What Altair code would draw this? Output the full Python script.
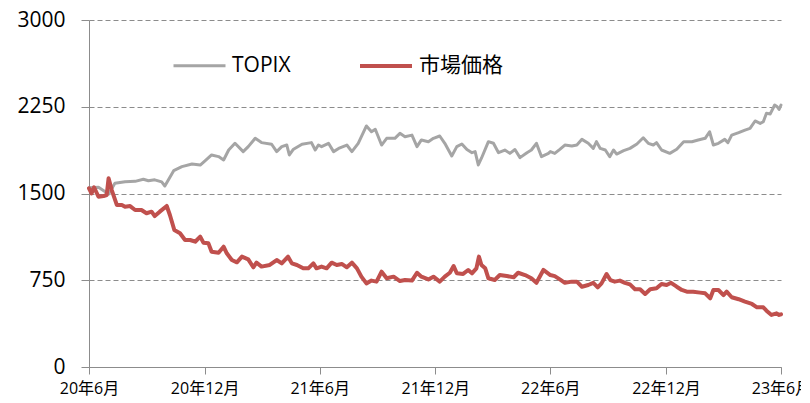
import altair as alt
import pandas as pd

START = "2020-06-01"

# TOPIX: (days since 2020-06-01, value)
topix_days = [0, 15, 31, 41, 57, 73, 86, 94, 104, 115, 120, 134, 147, 163, 176, 184, 194, 205, 213, 221,
              231, 244, 252, 263, 273, 289, 297, 305, 313, 317, 323, 337, 352, 358, 363,
              368, 379, 387, 395, 408, 416, 426, 439, 447, 453, 463, 471, 484, 492, 500, 511, 519, 526,
              537, 545, 555, 563, 574, 582, 590, 598, 606, 611, 616, 621, 632, 640, 648, 658, 666, 674,
              682, 693, 700, 708, 716, 727,
              730, 737, 745, 753, 764, 772, 780, 790, 798, 803, 809, 817, 824, 830, 835, 846, 856, 867,
              877, 885, 893, 898, 906, 919, 930, 941, 954, 964, 975, 982, 988, 996, 1006, 1011, 1017,
              1028, 1038, 1046, 1054, 1062, 1067, 1072, 1078, 1085, 1089, 1092, 1095]
topix_vals = [1550, 1554, 1495, 1588, 1602, 1605, 1623, 1610, 1618, 1600, 1565, 1697, 1732, 1755, 1746, 1784,
              1833, 1819, 1790, 1876,
              1934, 1862, 1905, 1977, 1940, 1926, 1862, 1905, 1919, 1833, 1880, 1926, 1940, 1876, 1919,
              1905, 1934, 1862, 1890, 1919, 1862, 1934, 2084, 2034, 2055, 1919, 1977, 1977, 2020, 1991,
              2005, 1905, 1963,
              1948, 1977, 1997, 1934, 1824, 1905, 1928, 1880, 1853, 1862, 1747, 1805, 1948, 1934, 1853,
              1876, 1847, 1880,
              1810, 1853, 1876, 1934, 1819, 1847,
              1862, 1847, 1882, 1919, 1911, 1919, 1968, 1934, 1890, 1948, 1890, 1876, 1818, 1876, 1841,
              1870, 1890, 1928,
              1982, 1934, 1919, 1940, 1876, 1847, 1882, 1948, 1948, 1963, 1977, 2034, 1919, 1934, 1968,
              1940, 2005,
              2026, 2048, 2063, 2127, 2106, 2120, 2193, 2188, 2265, 2250, 2226, 2265]

# 市場価格: (days since 2020-06-01, value)
market_days = [0, 4, 8, 15, 23, 28, 31, 36, 44, 52, 57, 65, 73, 83, 91, 99, 104, 112, 123, 128, 135, 144,
               152, 160, 168, 176, 181, 189, 194, 205, 213, 218, 226, 234, 242, 252, 260, 265, 273, 286,
               297, 305, 315, 321, 329, 339, 347, 355, 360,
               368, 376, 384, 392, 400, 408, 416, 424, 431, 439, 447, 455, 463, 471, 482, 492, 500, 511,
               519, 526, 537, 545, 555, 563, 571, 577, 582, 592, 600, 606, 613, 617, 621, 627, 632, 642,
               650, 661, 672, 679, 690, 700, 708, 719,
               730, 737, 745, 753, 764, 772, 780, 790, 798, 805, 811, 819, 825, 832, 840, 848, 856, 864,
               872, 880, 888, 898, 906, 914, 921, 930, 938, 946, 956, 967, 975, 983, 988, 996, 1004,
               1009, 1017, 1028, 1038, 1049, 1057, 1067, 1072, 1080, 1088, 1092, 1095]
market_vals = [1545, 1500, 1554, 1472, 1478, 1487, 1631, 1530, 1401, 1401, 1386, 1391, 1357, 1357, 1329,
               1343, 1305, 1343, 1392, 1314, 1184, 1156,
               1098, 1098, 1083, 1127, 1075, 1069, 997, 988, 1040, 983, 925, 905, 954, 931, 862, 902,
               868, 882,
               925, 896, 954, 896, 882, 853, 853, 896, 853,
               868, 853, 902, 882, 891, 862, 902, 853, 781, 723, 747, 738, 824, 767, 781, 743, 752, 747,
               815, 781, 757, 781, 738, 781, 815, 873, 810, 805, 839, 810, 853, 954, 882, 853, 767, 752,
               795, 786, 776, 815, 795, 767, 728, 839,
               795, 786, 758, 728, 738, 738, 694, 709, 728, 689, 723, 804, 752, 738, 747, 728, 714, 672,
               672, 631, 672, 680, 718, 709, 728, 694, 666, 651, 651, 643, 637, 594, 666, 666, 622,
               651, 603, 586, 565, 545, 516, 516, 487, 450, 464, 450, 456]

series_names = ["TOPIX", "市場価格"]
series_colors = ["#A5A5A5", "#C0504D"]
y_ticks = [0, 750, 1500, 2250, 3000]
x_tick_dates = [(2020, 6), (2020, 12), (2021, 6), (2021, 12), (2022, 6), (2022, 12), (2023, 6)]

start = pd.Timestamp(START)
rows = []
for name, days, vals in [(series_names[0], topix_days, topix_vals),
                         (series_names[1], market_days, market_vals)]:
    for d, v in zip(days, vals):
        rows.append({"date": (start + pd.Timedelta(days=d)).strftime("%Y-%m-%d"),
                     "value": v, "series": name})
df = pd.DataFrame(rows)

FONT = "Open Sans, Noto Sans CJK JP, sans-serif"

chart = alt.Chart(df).mark_line(strokeJoin="round", strokeCap="round").encode(
    x=alt.X("date:T",
            scale=alt.Scale(type="utc",
                            domain=[alt.DateTime(year=2020, month=6, date=1, utc=True),
                                    alt.DateTime(year=2023, month=6, date=1, utc=True)]),
            axis=alt.Axis(title=None, grid=False,
                          values=[alt.DateTime(year=y, month=m, date=1, utc=True) for y, m in x_tick_dates],
                          labelExpr="utcFormat(datum.value, '%y') + '年' + (utcmonth(datum.value) + 1) + '月'",
                          labelFontSize=16, labelColor="#000000", labelPadding=6,
                          tickSize=7, tickColor="#8c8c8c", domainColor="#8c8c8c",
                          labelFlush=False, labelOverlap=False)),
    y=alt.Y("value:Q",
            scale=alt.Scale(domain=[0, 3000], nice=False, zero=True),
            axis=alt.Axis(title=None, values=y_ticks, format="d", grid=True, gridDash=[5, 3],
                          gridColor="#8c8c8c", gridWidth=1,
                          labelFontSize=21, labelColor="#000000", labelPadding=16,
                          tickSize=8, tickColor="#8c8c8c", domainColor="#8c8c8c")),
    color=alt.Color("series:N",
                    scale=alt.Scale(domain=series_names, range=series_colors),
                    sort=series_names,
                    legend=alt.Legend(title=None, orient="none", legendX=83, legendY=18,
                                      direction="horizontal", symbolType="stroke",
                                      symbolSize=2704, symbolStrokeWidth=3.5,
                                      labelFontSize=21, labelColor="#000000", labelOffset=5,
                                      columnPadding=61)),
    strokeWidth=alt.StrokeWidth("series:N",
                                scale=alt.Scale(domain=series_names, range=[3, 4]),
                                legend=None),
    order=alt.Order("date:T"),
).properties(
    width=692, height=347,
    autosize=alt.AutoSizeParams(type="none"),
    padding={"left": 81, "top": 12, "right": 20, "bottom": 34},
).configure(font=FONT).configure_view(stroke=None)

chart.save("out.html", embed_options={"renderer": "svg", "actions": False})
